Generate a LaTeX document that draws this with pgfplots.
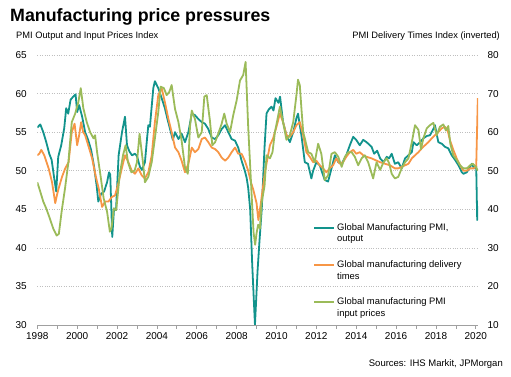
\documentclass[border=0pt]{standalone}
\usepackage{fontspec}
\setmainfont{Liberation Sans}
\usepackage{pgfplots}
\pgfplotsset{compat=1.18}
\definecolor{cteal}{HTML}{12938C}
\definecolor{corange}{HTML}{F79646}
\definecolor{cgreen}{HTML}{9BBB59}
\definecolor{cgrid}{HTML}{BFBFBF}
\definecolor{caxis}{HTML}{A0A0A0}
\begin{document}
\begin{tikzpicture}
\useasboundingbox (0pt,0pt) rectangle (511pt,377pt);
\node[anchor=base west, inner sep=0pt] at (10pt,355.3pt) {\fontsize{17.8}{20}\selectfont\bfseries Manufacturing price pressures};
\node[anchor=base west, inner sep=0pt] at (16pt,338.7pt) {\fontsize{9.3}{11}\selectfont PMI Output and Input Prices Index};
\node[anchor=base east, inner sep=0pt] at (500pt,338.7pt) {\fontsize{9.3}{11}\selectfont PMI Delivery Times Index (inverted)};
\node[anchor=base east, inner sep=0pt] at (503pt,10.5pt) {\fontsize{9.5}{11}\selectfont Sources: IHS Markit, JPMorgan};
\begin{axis}[
  at={(37.3pt,52pt)}, anchor=south west, scale only axis,
  width=440.7pt, height=270pt,
  xmin=1998, xmax=2020.11, ymin=10, ymax=80,
  axis y line*=right, axis x line=none,
  y axis line style={draw=none},
  ytick={10,20,...,80}, ytick style={draw=none},
  tick label style={font=\fontsize{10}{12}\selectfont, /pgf/number format/assume math mode=true},
  yticklabel style={xshift=6pt},
]
\end{axis}
\begin{axis}[
  at={(37.3pt,52pt)}, anchor=south west, scale only axis,
  width=440.7pt, height=270pt,
  xmin=1998, xmax=2020.11, ymin=30, ymax=65,
  axis lines*=left,
  y axis line style={draw=none},
  x axis line style={caxis, line width=0.8pt},
  xtick={1998,2000,...,2020},
  minor xtick={1999,2001,...,2019},
  xtick style={caxis, line width=0.7pt},
  minor tick style={caxis, line width=0.7pt},
  tick align=outside, major tick length=4pt, minor tick length=4pt,
  ytick={30,35,...,65},
  ytick style={draw=none},
  ymajorgrids,
  grid style={cgrid, line width=0.6pt, dash pattern=on 0.8pt off 1.6pt},
  tick label style={font=\fontsize{10}{12}\selectfont, /pgf/number format/assume math mode=true},
  x tick label style={/pgf/number format/.cd, 1000 sep={}},
  yticklabel style={xshift=-3pt},
  legend style={at={(axis description cs:0.6256,0.3781)}, anchor=north west,
    draw=none, fill=none, inner sep=0pt, row sep=17.2pt, column sep=2pt,
    font=\fontsize{9.4}{11.6}\selectfont,
    nodes={inner sep=0pt, align=left}, cells={anchor=north west}},
  legend image code/.code={\draw[#1, line width=2pt] (0pt,-4.4pt) -- (20pt,-4.4pt);},
]
\addplot[color=cteal, line width=1.8pt, line join=round, mark=none] coordinates {
(1998.00,55.6)(1998.15,56.0)(1998.30,55.0)(1998.45,53.7)(1998.60,52.2)(1998.72,51.4)(1998.85,49.0)(1998.95,47.3)(1999.05,51.8)(1999.20,53.3)(1999.35,55.5)(1999.45,58.1)(1999.55,57.4)(1999.67,59.2)(1999.80,59.6)(1999.92,59.9)(2000.00,57.6)(2000.10,58.5)(2000.25,57.0)(2000.40,55.0)(2000.55,54.0)(2000.70,52.7)(2000.85,50.5)(2000.98,48.0)(2001.06,46.0)(2001.20,47.0)(2001.35,47.3)(2001.50,48.5)(2001.60,49.8)(2001.66,49.5)(2001.76,41.4)(2001.85,45.1)(2001.95,44.9)(2002.08,52.0)(2002.25,55.0)(2002.40,57.0)(2002.50,53.3)(2002.62,52.5)(2002.75,52.0)(2002.90,52.2)(2003.00,51.9)(2003.15,50.5)(2003.25,50.1)(2003.40,51.1)(2003.50,54.0)(2003.57,55.9)(2003.65,55.7)(2003.82,60.7)(2003.90,61.6)(2004.07,60.7)(2004.24,59.4)(2004.40,58.1)(2004.55,56.5)(2004.65,55.5)(2004.80,54.0)(2004.91,55.0)(2005.08,54.1)(2005.24,54.8)(2005.41,53.7)(2005.58,55.0)(2005.75,57.4)(2005.91,57.2)(2006.08,56.7)(2006.25,56.3)(2006.41,56.1)(2006.58,55.4)(2006.75,54.3)(2006.92,54.1)(2007.08,54.6)(2007.25,55.4)(2007.42,55.9)(2007.58,55.0)(2007.75,54.1)(2007.92,53.9)(2008.08,53.0)(2008.25,51.3)(2008.41,50.0)(2008.50,49.1)(2008.58,47.8)(2008.68,45.0)(2008.78,38.0)(2008.92,30.0)(2009.05,37.0)(2009.15,41.0)(2009.26,45.0)(2009.40,53.0)(2009.50,57.4)(2009.60,57.9)(2009.75,58.3)(2009.85,57.8)(2009.95,59.4)(2010.10,58.8)(2010.18,59.6)(2010.33,56.3)(2010.50,54.6)(2010.67,53.7)(2010.84,55.0)(2011.00,56.8)(2011.08,57.4)(2011.25,54.6)(2011.42,51.1)(2011.58,50.9)(2011.75,49.0)(2011.84,50.0)(2012.00,51.1)(2012.17,50.7)(2012.42,48.8)(2012.59,48.6)(2012.76,50.3)(2012.93,52.0)(2013.10,51.1)(2013.27,50.9)(2013.50,52.0)(2013.68,53.3)(2013.85,54.4)(2014.00,54.0)(2014.18,53.3)(2014.35,54.0)(2014.52,53.7)(2014.77,53.1)(2014.90,52.2)(2015.05,52.6)(2015.20,51.6)(2015.37,51.1)(2015.53,51.8)(2015.65,51.6)(2015.78,52.2)(2015.94,50.9)(2016.11,51.1)(2016.28,50.3)(2016.45,51.6)(2016.62,52.0)(2016.79,52.4)(2016.87,53.7)(2017.04,53.3)(2017.20,53.7)(2017.37,54.2)(2017.54,54.5)(2017.70,54.6)(2017.87,55.4)(2017.95,55.9)(2018.12,53.7)(2018.29,53.5)(2018.45,53.1)(2018.62,52.9)(2018.79,52.0)(2018.96,51.4)(2019.13,50.7)(2019.30,49.8)(2019.38,49.6)(2019.55,49.8)(2019.71,50.5)(2019.80,50.9)(2019.92,50.3)(2020.02,50.6)(2020.07,43.6)(2020.10,45.4)
};
\addlegendentry{Global Manufacturing PMI,\\output}
\addplot[color=corange, line width=1.8pt, line join=round, mark=none] coordinates {
(1998.00,52.0)(1998.10,52.2)(1998.20,52.7)(1998.35,52.0)(1998.57,50.3)(1998.74,48.5)(1998.90,45.8)(1999.00,47.0)(1999.07,47.7)(1999.24,49.2)(1999.40,50.3)(1999.57,51.1)(1999.73,55.0)(1999.87,56.1)(2000.00,53.3)(2000.10,54.6)(2000.20,56.3)(2000.30,55.0)(2000.40,54.6)(2000.60,52.9)(2000.75,51.6)(2000.92,49.4)(2001.08,47.7)(2001.25,45.3)(2001.40,46.0)(2001.57,46.0)(2001.74,46.6)(2001.90,46.8)(2002.08,48.5)(2002.24,50.3)(2002.40,52.0)(2002.57,51.1)(2002.74,50.0)(2002.90,49.6)(2003.07,50.3)(2003.24,49.4)(2003.40,49.0)(2003.57,49.8)(2003.74,52.0)(2003.90,56.3)(2004.07,59.8)(2004.24,60.7)(2004.40,58.9)(2004.57,56.8)(2004.74,55.0)(2004.91,53.0)(2005.08,52.4)(2005.24,51.3)(2005.41,49.8)(2005.58,50.9)(2005.75,53.0)(2005.91,52.4)(2006.08,52.8)(2006.25,54.1)(2006.41,54.3)(2006.58,53.7)(2006.75,53.0)(2006.92,52.8)(2007.08,52.4)(2007.25,51.7)(2007.42,51.3)(2007.58,51.7)(2007.75,52.4)(2007.92,53.0)(2008.08,52.2)(2008.25,52.2)(2008.41,51.3)(2008.58,50.0)(2008.72,48.5)(2008.84,47.5)(2009.00,45.8)(2009.09,43.6)(2009.20,45.5)(2009.42,49.8)(2009.67,53.3)(2009.83,54.2)(2010.00,55.7)(2010.17,57.4)(2010.33,56.3)(2010.50,54.6)(2010.67,54.4)(2010.84,55.0)(2011.00,55.9)(2011.17,56.3)(2011.34,54.6)(2011.50,52.4)(2011.67,51.8)(2011.84,51.1)(2012.00,51.3)(2012.17,50.7)(2012.34,50.3)(2012.50,49.8)(2012.67,50.3)(2012.84,50.7)(2013.00,51.6)(2013.17,50.9)(2013.34,51.1)(2013.50,51.8)(2013.68,52.4)(2013.85,52.7)(2014.00,52.2)(2014.18,52.4)(2014.35,52.0)(2014.52,51.8)(2014.77,51.6)(2014.94,51.4)(2015.20,51.1)(2015.45,50.9)(2015.70,50.7)(2015.94,50.3)(2016.11,50.3)(2016.28,50.5)(2016.45,50.7)(2016.62,50.9)(2016.79,51.6)(2016.95,52.0)(2017.12,52.4)(2017.29,52.9)(2017.45,53.3)(2017.62,53.7)(2017.79,54.2)(2017.95,54.6)(2018.12,55.0)(2018.29,55.5)(2018.45,55.7)(2018.58,55.3)(2018.70,54.0)(2018.87,52.7)(2019.04,51.6)(2019.21,50.7)(2019.38,50.0)(2019.55,50.0)(2019.71,50.3)(2019.88,50.3)(2020.02,50.5)(2020.10,59.4)
};
\addlegendentry{Global manufacturing delivery\\times}
\addplot[color=cgreen, line width=1.8pt, line join=round, mark=none] coordinates {
(1998.00,48.5)(1998.10,47.7)(1998.30,46.0)(1998.45,45.1)(1998.63,43.8)(1998.80,42.5)(1998.97,41.6)(1999.08,41.8)(1999.22,44.7)(1999.39,47.7)(1999.56,51.1)(1999.73,56.3)(1999.90,57.4)(2000.06,58.9)(2000.18,60.7)(2000.31,58.1)(2000.48,56.3)(2000.65,55.0)(2000.82,54.2)(2000.90,54.6)(2001.00,52.4)(2001.17,49.4)(2001.33,46.4)(2001.50,44.7)(2001.64,42.1)(2001.72,42.5)(2001.84,45.1)(2001.96,44.9)(2002.13,49.4)(2002.30,52.0)(2002.43,53.3)(2002.55,51.1)(2002.72,49.8)(2002.88,50.0)(2003.00,51.1)(2003.13,54.8)(2003.30,51.1)(2003.40,48.5)(2003.57,49.2)(2003.74,51.1)(2003.90,54.2)(2004.07,57.6)(2004.19,60.9)(2004.35,60.7)(2004.49,59.8)(2004.62,60.2)(2004.74,61.1)(2004.91,58.0)(2005.08,56.3)(2005.24,53.9)(2005.41,50.4)(2005.55,49.6)(2005.66,55.7)(2005.75,57.8)(2005.91,56.7)(2006.08,54.3)(2006.25,55.0)(2006.38,59.6)(2006.50,59.8)(2006.66,56.5)(2006.78,53.3)(2006.92,53.7)(2007.08,54.8)(2007.25,56.1)(2007.38,57.4)(2007.50,56.1)(2007.67,55.0)(2007.83,57.2)(2008.00,59.1)(2008.17,61.7)(2008.33,62.4)(2008.45,64.1)(2008.58,55.7)(2008.75,47.0)(2008.85,42.0)(2008.93,40.4)(2009.00,41.9)(2009.08,43.0)(2009.17,42.5)(2009.25,45.8)(2009.40,48.0)(2009.50,52.0)(2009.67,51.6)(2009.80,52.4)(2009.92,55.0)(2010.09,57.2)(2010.17,58.3)(2010.33,56.3)(2010.50,54.0)(2010.67,54.6)(2010.84,56.3)(2011.00,59.8)(2011.08,61.8)(2011.17,61.1)(2011.25,58.1)(2011.34,55.0)(2011.42,54.2)(2011.59,52.4)(2011.75,52.2)(2011.92,51.1)(2012.09,53.5)(2012.25,52.2)(2012.42,48.8)(2012.59,49.4)(2012.76,52.2)(2012.93,52.4)(2013.10,51.8)(2013.27,50.5)(2013.43,51.8)(2013.60,52.4)(2013.77,52.4)(2013.93,51.8)(2014.10,50.7)(2014.27,51.6)(2014.43,52.0)(2014.60,51.1)(2014.85,49.0)(2015.02,51.1)(2015.20,50.1)(2015.37,51.1)(2015.53,51.6)(2015.65,51.0)(2015.78,49.6)(2015.94,49.0)(2016.11,49.2)(2016.28,50.3)(2016.45,51.1)(2016.62,51.6)(2016.79,53.7)(2016.95,55.9)(2017.12,55.3)(2017.25,52.8)(2017.37,54.2)(2017.54,55.5)(2017.70,55.9)(2017.87,56.2)(2018.04,54.6)(2018.20,55.7)(2018.37,56.0)(2018.50,55.2)(2018.62,55.8)(2018.72,53.5)(2018.87,52.0)(2019.04,51.4)(2019.21,50.7)(2019.38,50.3)(2019.55,50.3)(2019.71,50.7)(2019.85,50.9)(2020.00,50.5)(2020.10,50.0)
};
\addlegendentry{Global manufacturing PMI\\input prices}
\end{axis}
\end{tikzpicture}
\end{document}
